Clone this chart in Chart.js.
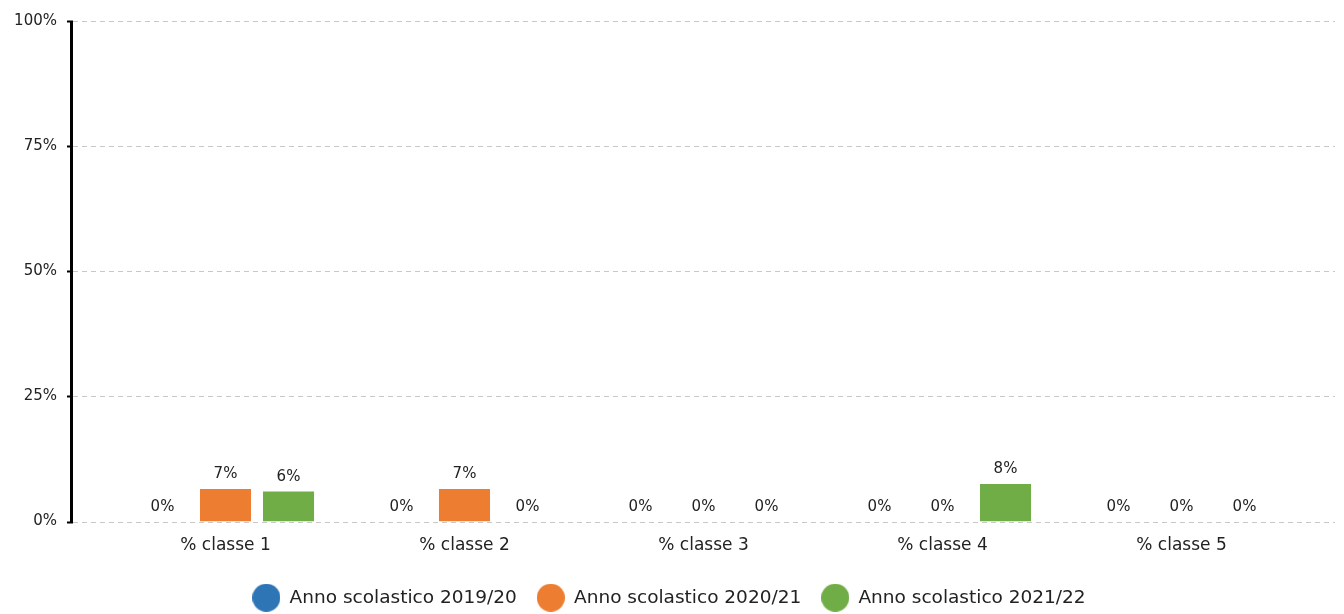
<!DOCTYPE html>
<html>
<head>
<meta charset="utf-8">
<script src="https://cdn.jsdelivr.net/npm/chart.js@4"></script>
<style>
  html, body { margin: 0; padding: 0; background: #fff; }
  #wrap { width: 1344px; height: 614px; }
</style>
</head>
<body>
<div id="wrap"><canvas id="chart" width="1344" height="614"></canvas></div>
<script>
// dati
const categories = ['% classe 1', '% classe 2', '% classe 3', '% classe 4', '% classe 5'];
const seriesNames = ['Anno scolastico 2019/20', 'Anno scolastico 2020/21', 'Anno scolastico 2021/22'];
const anno1920 = [0, 0, 0, 0, 0];
const anno2021 = [6.5, 6.5, 0, 0, 0];
const anno2122 = [6.0, 0, 0, 7.5, 0];
const yTicks = [0, 25, 50, 75, 100];
const colors = ['#2e75b6', '#ed7d31', '#70ad47'];

const FONT = 'DejaVu Sans';

function dot(color, size) {
    const c = document.createElement('canvas');
    c.width = size; c.height = size;
    const g = c.getContext('2d');
    g.fillStyle = color;
    g.beginPath(); g.arc(size / 2, size / 2, size / 2, 0, Math.PI * 2); g.fill();
    return c;
}

// griglia tratteggiata e asse Y che escono dall'area delle barre
const gridPlugin = {
    id: 'gridExt',
    beforeDatasetsDraw(chart) {
        const { ctx, chartArea: a, scales: { y } } = chart;
        const left = a.left - 33, right = a.right + 34;
        ctx.save();
        ctx.strokeStyle = '#c8c8c8';
        ctx.lineWidth = 1;
        ctx.setLineDash([5, 4]);
        yTicks.forEach(v => {
            const py = Math.round(y.getPixelForValue(v)) + 0.5;
            ctx.beginPath(); ctx.moveTo(left, py); ctx.lineTo(right, py); ctx.stroke();
        });
        ctx.setLineDash([]);
        ctx.strokeStyle = '#000';
        ctx.lineWidth = 3;
        ctx.beginPath();
        ctx.moveTo(left - 1.5, y.getPixelForValue(100));
        ctx.lineTo(left - 1.5, y.getPixelForValue(0) + 1);
        ctx.stroke();
        ctx.lineWidth = 2;
        yTicks.forEach(v => {
            const py = Math.round(y.getPixelForValue(v)) + 0.5;
            ctx.beginPath(); ctx.moveTo(left - 6, py); ctx.lineTo(left, py); ctx.stroke();
        });
        ctx.restore();
    }
};

// etichette sopra le barre
const labelPlugin = {
    id: 'valueLabels',
    afterDatasetsDraw(chart) {
        const { ctx } = chart;
        ctx.save();
        ctx.font = '15px "' + FONT + '"';
        ctx.fillStyle = '#222';
        ctx.textAlign = 'center';
        ctx.textBaseline = 'bottom';
        chart.data.datasets.forEach((ds, i) => {
            chart.getDatasetMeta(i).data.forEach((el, j) => {
                ctx.fillText(Math.round(ds.data[j]) + '%', el.x, el.y - 7);
            });
        });
        ctx.restore();
    }
};

const seriesData = [anno1920, anno2021, anno2122];

new Chart(document.getElementById('chart'), {
    type: 'bar',
    data: {
        labels: categories,
        datasets: seriesNames.map((name, i) => ({
            label: name,
            data: seriesData[i],
            backgroundColor: colors[i],
            pointStyle: dot(colors[i], 28),
            categoryPercentage: 0.791,
            barPercentage: 0.81
        }))
    },
    options: {
        responsive: false,
        animation: false,
        layout: { padding: { top: 21, right: 6, left: 0, bottom: -3 } },
        scales: {
            y: {
                min: 0, max: 100,
                afterFit: s => { s.width = 106; s.paddingTop = 0; s.paddingBottom = 0; },
                afterBuildTicks: s => { s.ticks = yTicks.map(v => ({ value: v })); },
                grid: { display: false, drawTicks: false },
                border: { display: false },
                ticks: {
                    padding: 49,
                    color: '#222',
                    font: { family: FONT, size: 15 },
                    callback: v => v + '%'
                }
            },
            x: {
                afterFit: s => { s.height = 47; s.paddingLeft = 0; s.paddingRight = 43; },
                grid: { display: false, drawTicks: false },
                border: { display: false },
                ticks: { padding: 14, color: '#222', font: { family: FONT, size: 17 } }
            }
        },
        plugins: {
            legend: {
                position: 'bottom',
                labels: {
                    usePointStyle: true,
                    pointStyleWidth: 28,
                    padding: 20,
                    color: '#222',
                    font: { family: FONT, size: 18.5 }
                }
            },
            tooltip: { enabled: false }
        }
    },
    plugins: [gridPlugin, labelPlugin]
});
</script>
</body>
</html>
